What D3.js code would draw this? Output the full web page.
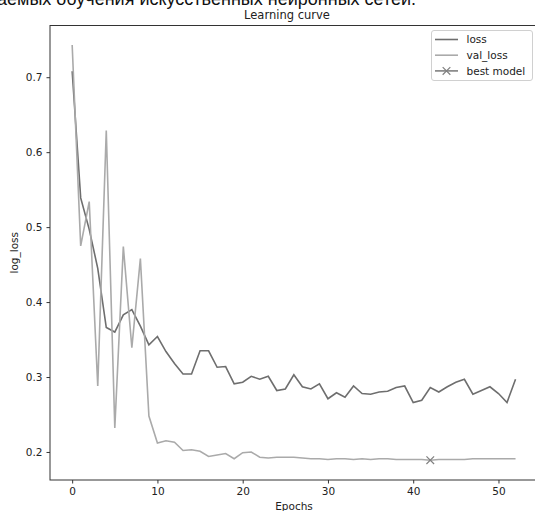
<!DOCTYPE html>
<html>
<head>
<meta charset="utf-8">
<script src="https://cdn.jsdelivr.net/npm/d3@7"></script>
<style>
  body { margin: 0; background: #fff; }
  svg { display: block; font-family: "DejaVu Sans", sans-serif; }
</style>
</head>
<body>
<script>
// training history, one value per epoch
var loss = [0.708, 0.539, 0.497, 0.445, 0.366, 0.360, 0.383, 0.390, 0.368, 0.343,
  0.354, 0.334, 0.318, 0.304, 0.304, 0.335, 0.335, 0.313, 0.314, 0.291,
  0.293, 0.301, 0.297, 0.301, 0.282, 0.284, 0.303, 0.287, 0.284, 0.291,
  0.271, 0.279, 0.273, 0.288, 0.278, 0.277, 0.280, 0.281, 0.286, 0.288,
  0.266, 0.269, 0.286, 0.280, 0.287, 0.293, 0.297, 0.277, 0.282, 0.287,
  0.278, 0.266, 0.297];
var valLoss = [0.743, 0.475, 0.534, 0.288, 0.629, 0.232, 0.474, 0.339, 0.458, 0.248,
  0.212, 0.215, 0.213, 0.202, 0.203, 0.201, 0.194, 0.196, 0.198, 0.191,
  0.199, 0.200, 0.193, 0.192, 0.193, 0.193, 0.193, 0.192, 0.191, 0.191,
  0.190, 0.191, 0.191, 0.190, 0.191, 0.190, 0.191, 0.191, 0.190, 0.190,
  0.190, 0.190, 0.189, 0.190, 0.190, 0.190, 0.190, 0.191, 0.191, 0.191,
  0.191, 0.191, 0.191];
var bestEpoch = [42];
var bestValue = [0.189];
var xTicks = [0, 10, 20, 30, 40, 50];
var yTicks = [0.2, 0.3, 0.4, 0.5, 0.6, 0.7];

var w = 535;
var h = 511;
var mLeft = 50, mTop = 25.5, mRight = 537.7, mBottom = 480;

var svg = d3.select("body").append("svg")
  .attr("width", w)
  .attr("height", h);

// caption from the page above, cut off at the top
svg.append("text")
  .attr("x", -3)
  .attr("y", 4.5)
  .attr("font-family", "Liberation Sans, Arial, sans-serif")
  .attr("font-size", 18)
  .attr("fill", "#111")
  .text("аемых обучения искусственных нейронных сетей.");

var x = d3.scaleLinear().domain([-2.6, 54.6]).range([mLeft, mRight]);
var y = d3.scaleLinear().domain([0.1626, 0.769]).range([mBottom, mTop]);

var line = d3.line()
  .x(function(d, i) { return x(i); })
  .y(function(d) { return y(d); });

svg.append("path")
  .datum(loss)
  .attr("d", line)
  .attr("fill", "none")
  .attr("stroke", "#6e6e6e")
  .attr("stroke-width", 1.6);

svg.append("path")
  .datum(valLoss)
  .attr("d", line)
  .attr("fill", "none")
  .attr("stroke", "#aaaaaa")
  .attr("stroke-width", 1.6);

// best model cross
var cross = d3.symbol().type(d3.symbolX).size(40);
svg.selectAll(".best")
  .data(bestEpoch)
  .enter()
  .append("path")
  .attr("class", "best")
  .attr("d", cross)
  .attr("transform", function(d, i) {
    return "translate(" + x(d) + "," + y(bestValue[i]) + ")";
  })
  .attr("fill", "none")
  .attr("stroke", "#808080")
  .attr("stroke-width", 1.2);

// axes
var xAxis = d3.axisBottom(x).tickValues(xTicks).tickSize(3.5).tickPadding(4)
  .tickFormat(d3.format("d"));
var yAxis = d3.axisLeft(y).tickValues(yTicks).tickSize(3.5).tickPadding(4)
  .tickFormat(d3.format(".1f"));

var gx = svg.append("g")
  .attr("transform", "translate(0," + mBottom + ")")
  .call(xAxis);
var gy = svg.append("g")
  .attr("transform", "translate(" + mLeft + ",0)")
  .call(yAxis);

[gx, gy].forEach(function(g) {
  g.select(".domain").remove();
  g.selectAll("line").attr("stroke", "#333");
  g.selectAll("text").attr("font-size", 10.5).attr("fill", "#222")
    .attr("font-family", "DejaVu Sans, sans-serif");
});

// frame
svg.append("rect")
  .attr("x", mLeft)
  .attr("y", mTop)
  .attr("width", mRight - mLeft)
  .attr("height", mBottom - mTop)
  .attr("fill", "none")
  .attr("stroke", "#333")
  .attr("stroke-width", 1);

svg.append("text")
  .attr("x", 287)
  .attr("y", 18.5)
  .attr("text-anchor", "middle")
  .attr("font-size", 11.5)
  .attr("fill", "#222")
  .text("Learning curve");

svg.append("text")
  .attr("x", 294)
  .attr("y", 510)
  .attr("text-anchor", "middle")
  .attr("font-size", 10.5)
  .attr("fill", "#222")
  .text("Epochs");

svg.append("text")
  .attr("transform", "translate(18," + ((mTop + mBottom) / 2) + ") rotate(-90)")
  .attr("text-anchor", "middle")
  .attr("font-size", 10.5)
  .attr("fill", "#222")
  .text("log_loss");

// legend
var legendItems = [
  {label: "loss", color: "#6e6e6e", marker: false},
  {label: "val_loss", color: "#aaaaaa", marker: false},
  {label: "best model", color: "#808080", marker: true}
];

var legend = svg.append("g");
legend.append("rect")
  .attr("x", 431.5)
  .attr("y", 30.5)
  .attr("width", 101)
  .attr("height", 50)
  .attr("rx", 2.5)
  .attr("fill", "#fff")
  .attr("fill-opacity", 0.8)
  .attr("stroke", "#d0d0d0");

var rows = legend.selectAll(".row")
  .data(legendItems)
  .enter()
  .append("g")
  .attr("class", "row")
  .attr("transform", function(d, i) { return "translate(0," + (39.5 + i * 15.7) + ")"; });

rows.append("line")
  .attr("x1", 435)
  .attr("x2", 458)
  .attr("stroke", function(d) { return d.color; })
  .attr("stroke-width", 1.6);

rows.filter(function(d) { return d.marker; })
  .append("path")
  .attr("d", cross)
  .attr("transform", "translate(446.5,0)")
  .attr("fill", "none")
  .attr("stroke", function(d) { return d.color; })
  .attr("stroke-width", 1.2);

rows.append("text")
  .attr("x", 466.5)
  .attr("y", 3.8)
  .attr("font-size", 10.5)
  .attr("fill", "#222")
  .text(function(d) { return d.label; });
</script>
</body>
</html>
